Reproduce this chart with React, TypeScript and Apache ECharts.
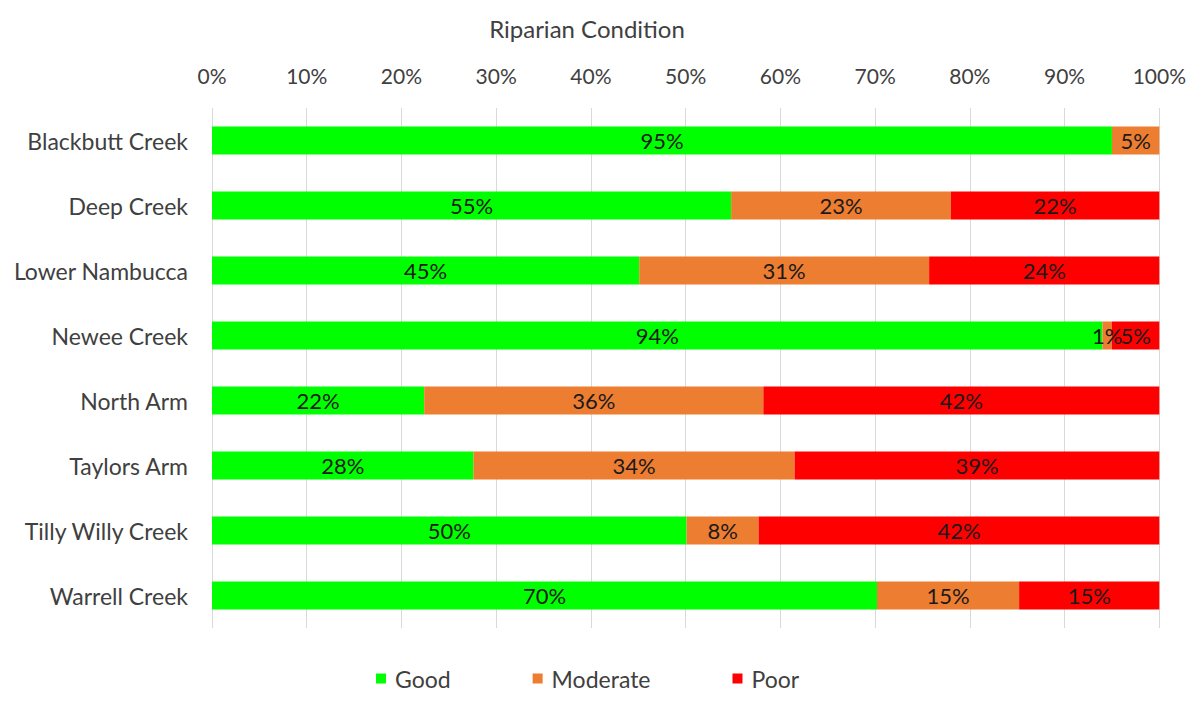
import React, { useEffect, useRef } from "react";
import * as echarts from "echarts";

const categories = [
  "Blackbutt Creek",
  "Deep Creek",
  "Lower Nambucca",
  "Newee Creek",
  "North Arm",
  "Taylors Arm",
  "Tilly Willy Creek",
  "Warrell Creek",
];
const good = [95, 54.8, 45.1, 94, 22.4, 27.6, 50.1, 70.2];
const moderate = [5, 23.2, 30.6, 1, 35.8, 33.9, 7.6, 15.0];
const poor = [0, 22.0, 24.3, 5, 41.8, 38.5, 42.3, 14.8];
const tickValues = [0, 10, 20, 30, 40, 50, 60, 70, 80, 90, 100];

const FONT = "Lato, 'Open Sans', sans-serif";

export default function App() {
  const ref = useRef<HTMLDivElement>(null);
  useEffect(() => {
    if (!ref.current) return;
    const chart = echarts.init(ref.current, undefined, { renderer: "svg" });
    const label = {
      show: true,
      position: "inside",
      color: "#1a1a1a",
      fontFamily: FONT,
      fontSize: 22,
      formatter: (p: any) => (p.value > 0 ? Math.round(p.value) + "%" : ""),
    };
    const mk = (name: string, data: number[], color: string) => ({
      name,
      type: "bar",
      stack: "total",
      data,
      barWidth: 28,
      itemStyle: { color },
      label,
      emphasis: { disabled: true },
    });
    chart.setOption({
      animation: false,
      backgroundColor: "#ffffff",
      title: {
        text: "Riparian Condition",
        left: 574,
        textAlign: "center",
        top: 3,
        textStyle: { fontFamily: FONT, fontSize: 24, fontWeight: "normal", color: "#404040" },
      },
      legend: {
        bottom: 3,
        left: 363,
        itemWidth: 10,
        itemHeight: 10,
        itemGap: 82,
        icon: "rect",
        textStyle: { fontFamily: FONT, fontSize: 23, color: "#404040", padding: [0, 0, 0, 4] },
        data: ["Good", "Moderate", "Poor"],
      },
      grid: { left: 204, right: 27, top: 100, bottom: 70, containLabel: false },
      xAxis: {
        type: "value",
        position: "top",
        min: 0,
        max: 100,
        interval: 10,
        axisLine: { show: false },
        axisTick: { show: false },
        axisLabel: {
          formatter: (v: number) => (tickValues.includes(v) ? v + "%" : ""),
          fontFamily: FONT,
          fontSize: 21,
          color: "#404040",
          margin: 22,
        },
        splitLine: { show: true, lineStyle: { color: "#d9d9d9", width: 1 } },
      },
      yAxis: {
        type: "category",
        inverse: true,
        data: categories,
        axisLine: { show: false },
        axisTick: { show: false },
        axisLabel: { fontFamily: FONT, fontSize: 23, color: "#404040", margin: 24 },
      },
      series: [
        mk("Good", good, "#00ff00"),
        mk("Moderate", moderate, "#ed7d31"),
        mk("Poor", poor, "#ff0000"),
      ],
    });
    return () => chart.dispose();
  }, []);
  return <div ref={ref} style={{ width: 1181, height: 690 }} />;
}
